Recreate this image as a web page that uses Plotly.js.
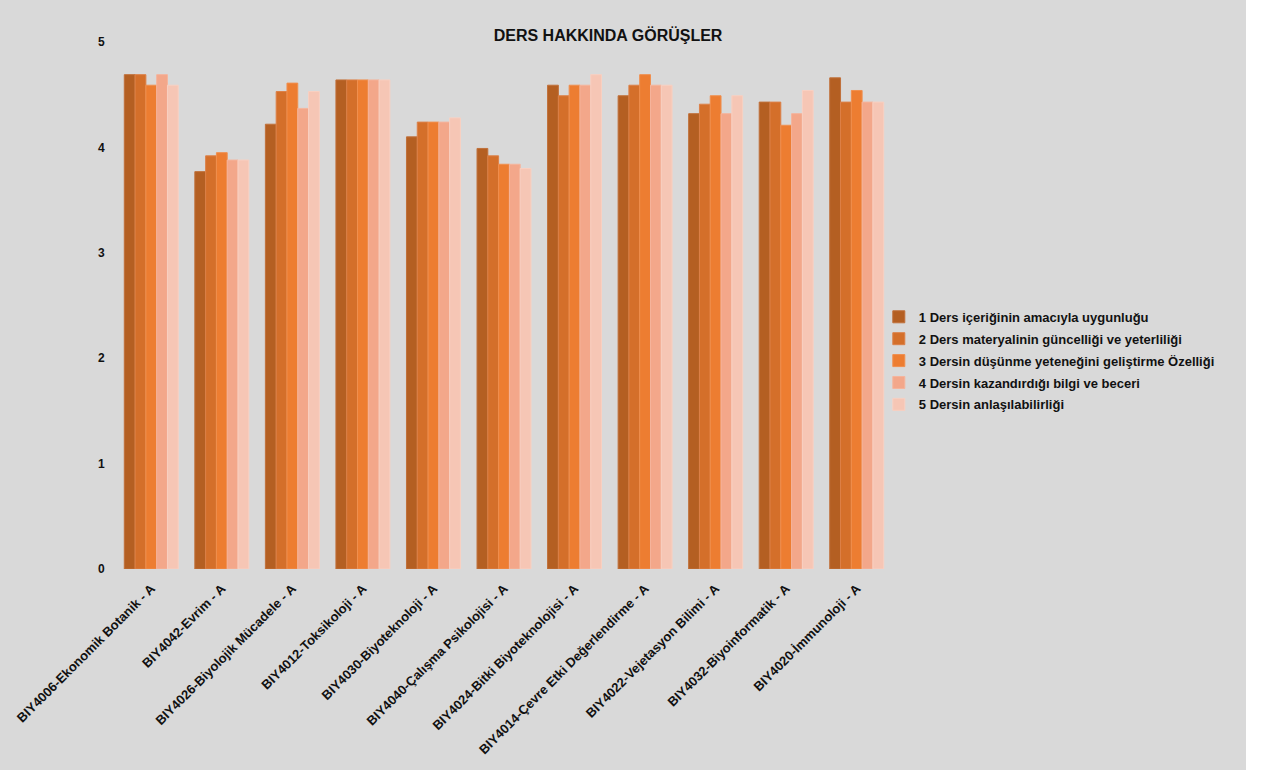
<!DOCTYPE html>
<html>
<head>
<meta charset="utf-8">
<script src="https://cdn.plot.ly/plotly-3.0.1.min.js"></script>
<style>
html, body { margin: 0; padding: 0; background: #ffffff; }
#chart { width: 1246px; height: 770px; }
</style>
</head>
<body>
<div id="chart"></div>
<script>
var categories = [
  "BIY4006-Ekonomik Botanik - A",
  "BIY4042-Evrim - A",
  "BIY4026-Biyolojik Mücadele - A",
  "BIY4012-Toksikoloji - A",
  "BIY4030-Biyoteknoloji - A",
  "BIY4040-Çalışma Psikolojisi - A",
  "BIY4024-Bitki Biyoteknolojisi - A",
  "BIY4014-Çevre Etki Değerlendirme - A",
  "BIY4022-Vejetasyon Bilimi - A",
  "BIY4032-Biyoinformatik - A",
  "BIY4020-İmmunoloji - A"
];
var seriesNames = [
  "1 Ders içeriğinin amacıyla uygunluğu",
  "2 Ders materyalinin güncelliği ve yeterliliği",
  "3 Dersin düşünme yeteneğini geliştirme Özelliği",
  "4 Dersin kazandırdığı bilgi ve beceri",
  "5 Dersin anlaşılabilirliği"
];
var s1 = [4.69, 3.77, 4.22, 4.64, 4.10, 3.99, 4.59, 4.49, 4.32, 4.43, 4.66];
var s2 = [4.69, 3.92, 4.53, 4.64, 4.24, 3.92, 4.49, 4.59, 4.41, 4.43, 4.43];
var s3 = [4.59, 3.95, 4.61, 4.64, 4.24, 3.84, 4.59, 4.69, 4.49, 4.21, 4.54];
var s4 = [4.69, 3.88, 4.37, 4.64, 4.24, 3.84, 4.59, 4.59, 4.32, 4.32, 4.43];
var s5 = [4.59, 3.88, 4.53, 4.64, 4.28, 3.80, 4.69, 4.59, 4.49, 4.54, 4.43];
var yTicks = [0, 1, 2, 3, 4, 5];

var series = [s1, s2, s3, s4, s5];
var colors = ["#b45f22", "#d46f2a", "#ed7d31", "#f3a78a", "#f6c6b5"];
var lineColors = ["#c0703a", "#dc8048", "#f08f4e", "#f5b49c", "#f8d0c2"];

var traces = series.map(function (vals, i) {
  return {
    type: "bar",
    name: seriesNames[i],
    legendgroup: "g" + i,
    x: categories,
    y: vals,
    marker: { color: colors[i], line: { color: lineColors[i], width: 1 } },
    hoverinfo: "x+y+name"
  };
});

var fam = "Liberation Sans, Arial, sans-serif";
var layout = {
  width: 1246,
  height: 770,
  paper_bgcolor: "#d9d9d9",
  plot_bgcolor: "#d9d9d9",
  font: { family: fam, size: 13, color: "#111111" },
  margin: { l: 116, r: 354, t: 42, b: 201 },
  title: {
    text: "<b>DERS HAKKINDA GÖRÜŞLER</b>",
    font: { family: fam, size: 16, color: "#111111" },
    xref: "container", x: 0.488, xanchor: "center",
    yref: "container", y: 0.954, yanchor: "middle"
  },
  barmode: "group",
  bargap: 0.235,
  bargroupgap: 0,
  xaxis: {
    type: "category",
    tickangle: -45,
    showgrid: false,
    zeroline: false,
    showline: false,
    ticks: "outside",
    ticklen: 6,
    tickcolor: "rgba(0,0,0,0)",
    tickfont: { family: fam, size: 13, color: "#111111", weight: "bold" }
  },
  yaxis: {
    range: [0, 5],
    tickvals: yTicks,
    ticktext: yTicks.map(String),
    showgrid: false,
    zeroline: false,
    showline: false,
    ticks: "outside",
    ticklen: 8,
    tickcolor: "rgba(0,0,0,0)",
    tickfont: { family: fam, size: 12, color: "#111111", weight: "bold" }
  },
  legend: {
    x: 0.983, xanchor: "left",
    y: 0.395, yanchor: "middle",
    bgcolor: "rgba(0,0,0,0)",
    itemwidth: 30,
    tracegroupgap: 2,
    font: { family: fam, size: 13, color: "#111111", weight: "bold" },
    traceorder: "grouped"
  },
  showlegend: true
};

Plotly.newPlot("chart", traces, layout, { displayModeBar: false, staticPlot: true });
</script>
</body>
</html>
